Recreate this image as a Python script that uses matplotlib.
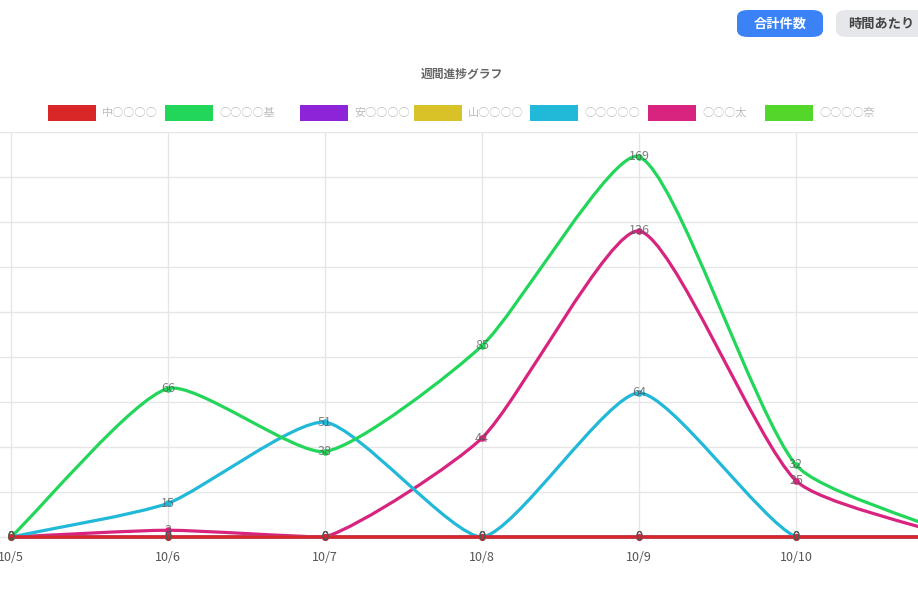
import matplotlib
matplotlib.use("Agg")
import matplotlib.pyplot as plt
from matplotlib.path import Path
from matplotlib.patches import PathPatch, FancyBboxPatch, Rectangle
import numpy as np

plt.rcParams['font.family'] = ['Noto Sans CJK JP', 'DejaVu Sans']

# data
dates = ['10/5', '10/6', '10/7', '10/8', '10/9', '10/10', '10/11']
names = ['中○○○○', '○○○○基', '安○○○○', '山○○○○', '○○○○○', '○○○太', '○○○○奈']
colors = ['#d92727', '#22d65a', '#8e24d8', '#d8c227', '#22b8d8', '#d8247f', '#55d62a']
values = [
    [0, 0, 0, 0, 0, 0, 0],
    [0, 66, 38, 85, 169, 32, 1],
    [0, 0, 0, 0, 0, 0, 0],
    [0, 0, 0, 0, 0, 0, 0],
    [0, 15, 51, 0, 64, 0, 0],
    [0, 3, 0, 44, 136, 25, 0],
    [0, 0, 0, 0, 0, 0, 0],
]

W, H = 918, 591
fig = plt.figure(figsize=(W / 100, H / 100), dpi=100)

x0_px, step_px = 11, 157
y0_px, top_px = 537, 132
ymax = 180
px_y = (y0_px - top_px) / ymax
ymin = -2
bottom_px = y0_px - ymin * px_y
ax = fig.add_axes([0, 1 - bottom_px / H, 1, (bottom_px - top_px) / H])
for s in ax.spines.values():
    s.set_visible(False)
ax.set_xticks(range(len(dates)))
ax.set_xticklabels(dates, fontsize=9, color='#555')
ax.set_yticks(np.arange(0, ymax + 1, 20))
ax.set_yticklabels([])
xmax = (W - x0_px) / step_px
ax.set_xlim(-x0_px / step_px, xmax)
ax.set_ylim(ymin, ymax)
ax.tick_params(length=0, pad=7)
ax.grid(True, color='#e6e6e6', lw=1)
ax.set_axisbelow(True)

px_x = step_px


def spline_path(xs, ys, t=0.2):
    # chart.js style cubic spline, distances in pixel space
    pts = np.column_stack([np.array(xs, float) * px_x, np.array(ys, float) * px_y])
    n = len(pts)
    cp_prev = pts.copy()
    cp_next = pts.copy()
    for i in range(n):
        p = pts[max(i - 1, 0)]
        c = pts[i]
        nx = pts[min(i + 1, n - 1)]
        d01 = np.hypot(*(c - p))
        d12 = np.hypot(*(nx - c))
        tot = d01 + d12
        if tot == 0:
            continue
        fa = t * d01 / tot
        fb = t * d12 / tot
        cp_prev[i] = c - fa * (nx - p)
        cp_next[i] = c + fb * (nx - p)
    cp_prev[:, 1] = np.clip(cp_prev[:, 1], 0, ymax * px_y)
    cp_next[:, 1] = np.clip(cp_next[:, 1], 0, ymax * px_y)
    verts = [pts[0]]
    codes = [Path.MOVETO]
    for i in range(1, n):
        verts += [cp_next[i - 1], cp_prev[i], pts[i]]
        codes += [Path.CURVE4] * 3
    verts = np.array(verts) / [px_x, px_y]
    return Path(verts, codes)


xs = np.arange(len(dates))
# first dataset drawn on top
for k in reversed(range(len(values))):
    path = spline_path(xs, values[k])
    ax.add_patch(PathPatch(path, fill=False, edgecolor=colors[k], lw=2.3,
                           zorder=3 + (len(values) - k) * 0.1))
    ax.scatter(xs, values[k], s=14, color=colors[k], zorder=4)

for k in range(len(values)):
    for x, v in zip(xs, values[k]):
        if x > xmax:
            continue
        ax.text(x, v, str(v), ha='center', va='center', fontsize=9,
                color='#555', alpha=0.75, zorder=6, clip_on=True)

# title
fig.text(462 / W, 1 - 74 / H, '週間進捗グラフ', ha='center', va='center',
         fontsize=8.5, color='#666', fontweight='bold')

# legend
leg_x = [48, 165, 300, 414, 530, 648, 765]
for lx, c, nm in zip(leg_x, colors, names):
    fig.patches.append(Rectangle((lx / W, 1 - 121 / H), 48 / W, 16 / H,
                                 transform=fig.transFigure, facecolor=c, edgecolor='none'))
    fig.text((lx + 54) / W, 1 - 113 / H, nm, ha='left', va='center',
             fontsize=8, color='#bdbdbd')

# buttons
fig.patches.append(FancyBboxPatch((737 / W, 1 - 37 / H), 86 / W, 27 / H,
                                  boxstyle='round,pad=0,rounding_size=0.012',
                                  transform=fig.transFigure, facecolor='#3b82f6', edgecolor='none'))
fig.text(780 / W, 1 - 24 / H, '合計件数', ha='center', va='center', fontsize=9.5,
         color='white', fontweight='bold')
fig.patches.append(FancyBboxPatch((836 / W, 1 - 37 / H), 100 / W, 27 / H,
                                  boxstyle='round,pad=0,rounding_size=0.012',
                                  transform=fig.transFigure, facecolor='#e5e7eb', edgecolor='none'))
fig.text(848 / W, 1 - 24 / H, '時間あたり', ha='left', va='center', fontsize=9.5,
         color='#444', fontweight='bold')

fig.savefig('out.png', dpi=100)
